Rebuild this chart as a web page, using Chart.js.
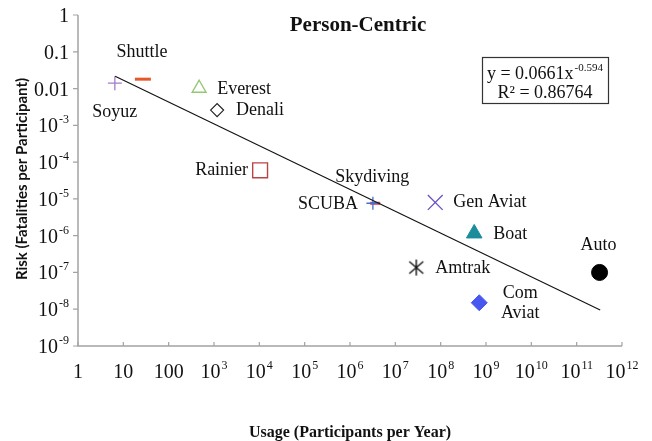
<!DOCTYPE html>
<html>
<head>
<meta charset="utf-8">
<script src="https://cdn.jsdelivr.net/npm/chart.js@4.4.1/dist/chart.umd.min.js"></script>
<style>
  html, body { margin: 0; padding: 0; background: #fff; }
  #wrap { width: 652px; height: 441px; }
</style>
</head>
<body>
<div id="wrap"><canvas id="riskChart" width="652" height="441"></canvas></div>
<script>
// data
const names = ['Soyuz', 'Shuttle', 'Everest', 'Denali', 'Rainier', 'SCUBA', 'Skydiving',
  'Gen Aviat', 'Boat', 'Amtrak', 'Com Aviat', 'Auto'];
const usage = [6.5, 27, 470, 1170, 1.04e4, 3.2e6, 3.6e6, 7.6e7, 5.5e8, 2.9e7, 7.1e8, 3.2e11];
const risk = [0.014, 0.018, 0.0102, 0.0026, 6e-5, 7.6e-6, 7.6e-6, 8e-6, 1.15e-6, 1.36e-7, 1.5e-8, 1e-7];
const trendX = [6.6, 3.3e11];
const trendY = [0.0215, 9.5e-9];
const xTickExp = [0, 1, 2, 3, 4, 5, 6, 7, 8, 9, 10, 11, 12];
const yTickExp = [0, -1, -2, -3, -4, -5, -6, -7, -8, -9];
const equation = ['y = 0.0661x', '-0.594', 'R² = 0.86764'];

// asterisk marker for Amtrak
function asterisk() {
  const c = document.createElement('canvas');
  c.width = 18; c.height = 18;
  const g = c.getContext('2d');
  g.strokeStyle = '#111';
  g.lineWidth = 1.4;
  g.beginPath();
  g.moveTo(9, 1); g.lineTo(9, 17);
  g.moveTo(2, 3); g.lineTo(16, 15);
  g.moveTo(16, 3); g.lineTo(2, 15);
  g.stroke();
  return c;
}

// marker styles, same order as names
const styles = [
  { pointStyle: 'cross', radius: 7, color: '#a57cc9', fill: 'transparent', bw: 1.3 },
  { pointStyle: 'line', radius: 8, color: '#e4582a', fill: 'transparent', bw: 3 },
  { pointStyle: 'triangle', radius: 8, color: '#94c874', fill: '#fff', bw: 1.4 },
  { pointStyle: 'rectRot', radius: 6.5, color: '#222', fill: '#fff', bw: 1.2 },
  { pointStyle: 'rect', radius: 10.5, color: '#b84445', fill: '#fff', bw: 1.4 },
  { pointStyle: 'cross', radius: 6.5, color: '#3f6fd8', fill: 'transparent', bw: 1.3 },
  { pointStyle: 'line', radius: 5, color: '#e03a3a', fill: 'transparent', bw: 3 },
  { pointStyle: 'crossRot', radius: 10.5, color: '#6a4fc8', fill: 'transparent', bw: 1.3 },
  { pointStyle: 'triangle', radius: 9, color: '#1a8c9c', fill: '#1a8c9c', bw: 1 },
  { pointStyle: asterisk(), radius: 9, color: '#111', fill: '#111', bw: 1 },
  { pointStyle: 'rectRot', radius: 8, color: '#4757f0', fill: '#4757f0', bw: 1 },
  { pointStyle: 'circle', radius: 8, color: '#000', fill: '#000', bw: 1 }
];

// label placement relative to each marker
const labelPos = [
  { dx: 0, dy: 29, align: 'center' },
  { dx: -1, dy: -27, align: 'center' },
  { dx: 18, dy: 1, align: 'left' },
  { dx: 19, dy: 0, align: 'left' },
  { dx: -12, dy: 0, align: 'right' },
  { dx: -15, dy: 1, align: 'right' },
  { dx: -3, dy: -26, align: 'center' },
  { dx: 18, dy: 0, align: 'left' },
  { dx: 19, dy: 1, align: 'left' },
  { dx: 19, dy: 1, align: 'left' },
  { dx: 41, dy: -9, align: 'center', lines: ['Com', 'Aviat'] },
  { dx: -1, dy: -27, align: 'center' }
];

const SERIF = "'Liberation Serif', 'Times New Roman', serif";
const AXIS = '#a3a3a3';

const datasets = names.map((n, i) => ({
  label: n,
  data: [{ x: usage[i], y: risk[i] }],
  pointStyle: styles[i].pointStyle,
  pointRadius: styles[i].radius,
  pointHoverRadius: styles[i].radius,
  borderColor: styles[i].color,
  backgroundColor: styles[i].fill,
  borderWidth: styles[i].bw
}));

datasets.unshift({
  label: 'Trend',
  data: trendX.map((x, i) => ({ x: x, y: trendY[i] })),
  showLine: true,
  borderColor: '#111',
  borderWidth: 1.1,
  pointRadius: 0,
  fill: false
});

function drawSup(ctx, base, exp, x, y, align, baseSize, supSize) {
  ctx.font = baseSize + 'px ' + SERIF;
  const wb = ctx.measureText(base).width;
  ctx.font = supSize + 'px ' + SERIF;
  const we = exp ? ctx.measureText(exp).width + 1 : 0;
  const total = wb + we;
  let left = x;
  if (align === 'center') left = x - total / 2;
  if (align === 'right') left = x - total;
  ctx.textAlign = 'left';
  ctx.textBaseline = 'alphabetic';
  ctx.font = baseSize + 'px ' + SERIF;
  ctx.fillText(base, left, y);
  if (exp) {
    ctx.font = supSize + 'px ' + SERIF;
    ctx.fillText(exp, left + wb + 1, y - baseSize * 0.45);
  }
}

const decorations = {
  id: 'decorations',
  afterDatasetsDraw(chart) {
    const ctx = chart.ctx;
    const xs = chart.scales.x, ys = chart.scales.y;
    const area = chart.chartArea;
    ctx.save();

    // axes
    ctx.strokeStyle = AXIS;
    ctx.lineWidth = 1.5;
    ctx.beginPath();
    ctx.moveTo(area.left, area.top);
    ctx.lineTo(area.left, area.bottom);
    ctx.lineTo(area.right, area.bottom);
    ctx.stroke();
    ctx.lineWidth = 1.2;
    ctx.beginPath();
    yTickExp.forEach(e => {
      const py = ys.getPixelForValue(Math.pow(10, e));
      ctx.moveTo(area.left - 5, py); ctx.lineTo(area.left, py);
    });
    xTickExp.forEach(e => {
      const px = xs.getPixelForValue(Math.pow(10, e));
      ctx.moveTo(px, area.bottom - 4); ctx.lineTo(px, area.bottom);
    });
    ctx.stroke();

    // tick labels
    ctx.fillStyle = '#111';
    yTickExp.forEach(e => {
      const py = ys.getPixelForValue(Math.pow(10, e));
      if (e === 0) drawSup(ctx, '1', '', area.left - 9, py + 7, 'right', 20, 12);
      else if (e === -1) drawSup(ctx, '0.1', '', area.left - 9, py + 7, 'right', 20, 12);
      else if (e === -2) drawSup(ctx, '0.01', '', area.left - 9, py + 7, 'right', 20, 12);
      else drawSup(ctx, '10', String(e), area.left - 9, py + 7, 'right', 20, 12);
    });
    xTickExp.forEach(e => {
      const px = xs.getPixelForValue(Math.pow(10, e));
      const py = area.bottom + 32;
      if (e < 3) drawSup(ctx, String(Math.pow(10, e)), '', px, py, 'center', 20, 12);
      else drawSup(ctx, '10', String(e), px, py, 'center', 20, 12);
    });

    // point labels
    ctx.font = '18px ' + SERIF;
    ctx.textBaseline = 'middle';
    names.forEach((n, i) => {
      const p = labelPos[i];
      const px = xs.getPixelForValue(usage[i]) + p.dx;
      const py = ys.getPixelForValue(risk[i]) + p.dy;
      ctx.textAlign = p.align;
      const lines = p.lines || [n];
      lines.forEach((t, k) => ctx.fillText(t, px, py + k * 20));
    });

    // title
    ctx.textAlign = 'center';
    ctx.textBaseline = 'alphabetic';
    ctx.font = 'bold 21px ' + SERIF;
    ctx.fillText('Person-Centric', 358, 31);

    // axis titles
    ctx.font = 'bold 16px ' + SERIF;
    ctx.fillText('Usage (Participants per Year)', 350, 437);
    ctx.save();
    ctx.translate(27, 179);
    ctx.rotate(-Math.PI / 2);
    ctx.font = "bold 15px Lato, 'Liberation Sans', sans-serif";
    ctx.fillText('Risk (Fatalities per Participant)', 0, 0);
    ctx.restore();

    // equation box
    ctx.fillStyle = '#fff';
    ctx.fillRect(482, 57, 126, 46);
    ctx.strokeStyle = '#333';
    ctx.lineWidth = 1.2;
    ctx.strokeRect(482.5, 57.5, 126, 46);
    ctx.fillStyle = '#111';
    drawSup(ctx, equation[0], equation[1], 545, 79, 'center', 18, 11);
    ctx.font = '18px ' + SERIF;
    ctx.textAlign = 'center';
    ctx.fillText(equation[2], 545, 98);

    ctx.restore();
  }
};

new Chart(document.getElementById('riskChart').getContext('2d'), {
  type: 'scatter',
  data: { datasets: datasets },
  options: {
    responsive: false,
    animation: false,
    events: [],
    layout: { padding: { left: 70, right: 30, top: 15, bottom: 87 } },
    plugins: {
      legend: { display: false },
      title: { display: false },
      tooltip: { enabled: false }
    },
    scales: {
      x: {
        type: 'logarithmic',
        min: 1,
        max: 1e12,
        grid: { display: false },
        border: { display: false },
        ticks: { display: false }
      },
      y: {
        type: 'logarithmic',
        min: 1e-9,
        max: 1,
        grid: { display: false },
        border: { display: false },
        ticks: { display: false }
      }
    }
  },
  plugins: [decorations]
});
</script>
</body>
</html>
